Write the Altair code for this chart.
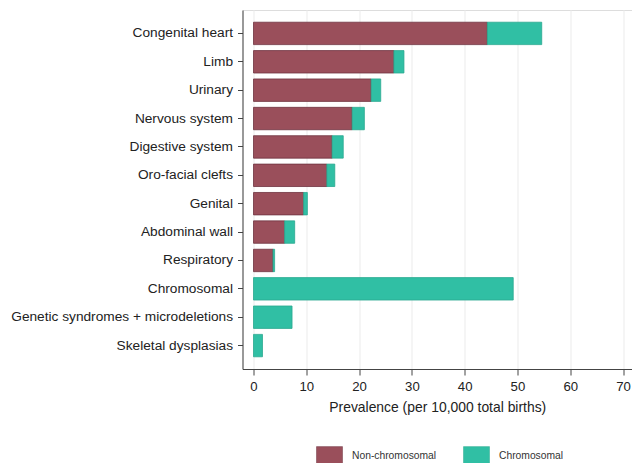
import altair as alt
import pandas as pd

categories = ["Congenital heart", "Limb", "Urinary", "Nervous system", "Digestive system",
              "Oro-facial clefts", "Genital", "Abdominal wall", "Respiratory", "Chromosomal",
              "Genetic syndromes + microdeletions", "Skeletal dysplasias"]
non_chromosomal = [44.3, 26.6, 22.3, 18.7, 14.9, 13.9, 9.5, 5.9, 3.7, 0, 0, 0]
chromosomal = [10.3, 1.9, 1.8, 2.3, 2.1, 1.5, 0.7, 1.9, 0.3, 49.2, 7.3, 1.7]
series = ["Non-chromosomal", "Chromosomal"]
fills = ["#9a4f5b", "#30bfa4"]
strokes = ["#6e3440", "#2aa88f"]

rows = []
for c, a, b in zip(categories, non_chromosomal, chromosomal):
    if a > 0:
        rows.append({"cat": c, "type": series[0], "val": a, "ord": 0})
    if b > 0:
        rows.append({"cat": c, "type": series[1], "val": b, "ord": 1})
df = pd.DataFrame(rows)

FONT = "Liberation Sans"

chart = alt.Chart(df).mark_bar(strokeWidth=0.8).encode(
    y=alt.Y("cat:N", sort=categories, title=None,
            scale=alt.Scale(paddingInner=0.21, paddingOuter=0.43),
            axis=alt.Axis(labelFontSize=13.7, labelColor="#222222", labelFont=FONT,
                          tickSize=5, tickColor="#444444", domainColor="#444444",
                          labelPadding=5, grid=False, labelLimit=300)),
    x=alt.X("val:Q", stack="zero", title="Prevalence (per 10,000 total births)",
            scale=alt.Scale(domain=[-2.084, 71.70], nice=False, zero=False),
            axis=alt.Axis(values=[0, 10, 20, 30, 40, 50, 60, 70], labelFontSize=13.2,
                          labelColor="#222222", labelFont=FONT, tickSize=6,
                          tickColor="#444444", domainColor="#444444", labelPadding=5,
                          grid=True, gridColor="#efefef", gridWidth=1.2,
                          titleFont=FONT, titleFontSize=13.9, titleFontWeight="normal",
                          titleColor="#222222", titlePadding=8)),
    fill=alt.Fill("type:N", scale=alt.Scale(domain=series, range=fills),
                  legend=alt.Legend(title=None, orient="none", direction="horizontal",
                                    legendX=73.5, legendY=432,
                                    symbolType="M-1,-0.7H1V0.7H-1Z", symbolSize=676,
                                    symbolStrokeWidth=0.5,
                                    labelFont=FONT, labelFontSize=10.3, labelColor="#333333",
                                    labelOffset=9, columnPadding=25, padding=0)),
    stroke=alt.Stroke("type:N", scale=alt.Scale(domain=series, range=strokes), legend=None),
    order=alt.Order("ord:Q"),
).properties(
    width=389.5, height=359,
    autosize=alt.AutoSizeParams(type="none"),
    padding={"left": 234.5, "top": 2, "right": 0, "bottom": 94},
).configure_view(stroke=None).configure(background="white")

chart.save("out.html", embed_options={"renderer": "svg", "actions": False})
